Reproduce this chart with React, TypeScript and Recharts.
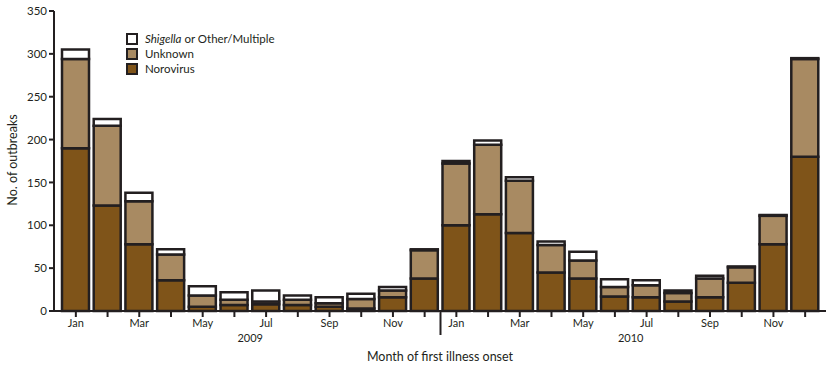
import { Bar, BarChart, Label, XAxis, YAxis } from 'recharts';

const monthNames = ['Jan', 'Feb', 'Mar', 'Apr', 'May', 'Jun', 'Jul', 'Aug', 'Sep', 'Oct', 'Nov', 'Dec'];
const years = ['2009', '2010'];

// outbreaks per month, Jan 2009 .. Dec 2010
const norovirus = [190, 123, 78, 36, 5, 7, 8, 7, 5, 3, 16, 38, 100, 113, 91, 45, 38, 17, 16, 11, 16, 33, 78, 180];
const unknown = [104, 93, 50, 30, 13, 6, 3, 6, 4, 11, 8, 33, 72, 81, 61, 32, 21, 11, 14, 10, 22, 18, 33, 114];
const shigella = [11, 8, 10, 6, 11, 9, 13, 5, 7, 6, 4, 1, 3, 5, 4, 4, 10, 9, 6, 3, 3, 1, 1, 1];

const yTicks = [0, 50, 100, 150, 200, 250, 300, 350];

const data = norovirus.map((n, i) => ({
  key: `${years[Math.floor(i / 12)]}-${monthNames[i % 12]}`,
  norovirus: n,
  unknown: unknown[i],
  shigella: shigella[i],
}));

const INK = '#231f20';
const NORO = '#7f5419';
const UNK = '#a88a62';
const FONT = 'Lato, "Liberation Sans", sans-serif';
const HALF = (772 - 11) / 24 / 2;

const MonthTick = (props: any) => {
  const { x, y, payload } = props;
  const i = data.findIndex((d) => d.key === payload.value);
  const m = i % 12;
  return (
    <g>
      {m % 2 === 0 && (
        <text x={x} y={y} dy="0.71em" textAnchor="middle" fontSize={11} fill={INK} fontFamily={FONT}>
          {monthNames[m]}
        </text>
      )}
      {m === 5 && (
        <text x={x + HALF} y={y + 23} textAnchor="middle" fontSize={11} fill={INK} fontFamily={FONT}>
          {years[Math.floor(i / 12)]}
        </text>
      )}
      {i === 12 && <line x1={x - HALF} x2={x - HALF} y1={y - 8} y2={y + 16} stroke={INK} strokeWidth={2} />}
    </g>
  );
};

const legendItems = [
  { name: 'Shigella', rest: ' or Other/Multiple', color: '#ffffff' },
  { name: 'Unknown', rest: '', color: UNK },
  { name: 'Norovirus', rest: '', color: NORO },
];

const LegendBox = () => (
  <div style={{ position: 'absolute', left: 126, top: 31, fontFamily: FONT, fontSize: 11.5, color: INK, lineHeight: '15px' }}>
    {legendItems.map((it) => (
      <div key={it.name} style={{ display: 'flex', alignItems: 'center', height: 15 }}>
        <span
          style={{
            display: 'inline-block',
            width: 8,
            height: 8,
            border: `2px solid ${INK}`,
            background: it.color,
            marginRight: 7,
          }}
        />
        {it.rest ? (
          <span>
            <i>{it.name}</i>
            {it.rest}
          </span>
        ) : (
          <span>{it.name}</span>
        )}
      </div>
    ))}
  </div>
);

export default function App() {
  return (
    <div style={{ position: 'absolute', left: 0, top: 0, width: 832, height: 370 }}>
      <BarChart width={832} height={370} data={data} margin={{ top: 11, right: 6, left: 8, bottom: 0 }} barCategoryGap={0} barSize={27}>
        <XAxis
          dataKey="key"
          height={59}
          interval={0}
          padding={{ left: 6, right: 5 }}
          tick={<MonthTick />}
          tickSize={6}
          axisLine={{ stroke: INK, strokeWidth: 2 }}
          tickLine={{ stroke: INK, strokeWidth: 2 }}
        >
          <Label value="Month of first illness onset" position="insideBottom" offset={9} fontSize={12.5} fill={INK} fontFamily={FONT} />
        </XAxis>
        <XAxis xAxisId="top" orientation="top" height={0} tick={false} tickLine={false} axisLine={{ stroke: INK, strokeWidth: 2 }} />
        <YAxis
          width={46}
          domain={[0, 350]}
          ticks={yTicks}
          interval={0}
          tickSize={5}
          tick={{ fontSize: 11.5, fill: INK, fontFamily: FONT }}
          axisLine={{ stroke: INK, strokeWidth: 2 }}
          tickLine={{ stroke: INK, strokeWidth: 2 }}
          label={{
            content: () => (
              <text x={14} y={160} transform="rotate(-90 14 160)" textAnchor="middle" dominantBaseline="middle" fontSize={12.5} fill={INK} fontFamily={FONT}>
                No. of outbreaks
              </text>
            ),
          }}
        />
        <YAxis yAxisId="right" orientation="right" width={0} tick={false} tickLine={false} axisLine={{ stroke: INK, strokeWidth: 2 }} />
        <Bar dataKey="norovirus" name="Norovirus" stackId="a" fill={NORO} stroke={INK} strokeWidth={2.5} isAnimationActive={false} />
        <Bar dataKey="unknown" name="Unknown" stackId="a" fill={UNK} stroke={INK} strokeWidth={2.5} isAnimationActive={false} />
        <Bar dataKey="shigella" name="Shigella or Other/Multiple" stackId="a" fill="#ffffff" stroke={INK} strokeWidth={2.5} isAnimationActive={false} />
      </BarChart>
      <LegendBox />
    </div>
  );
}
